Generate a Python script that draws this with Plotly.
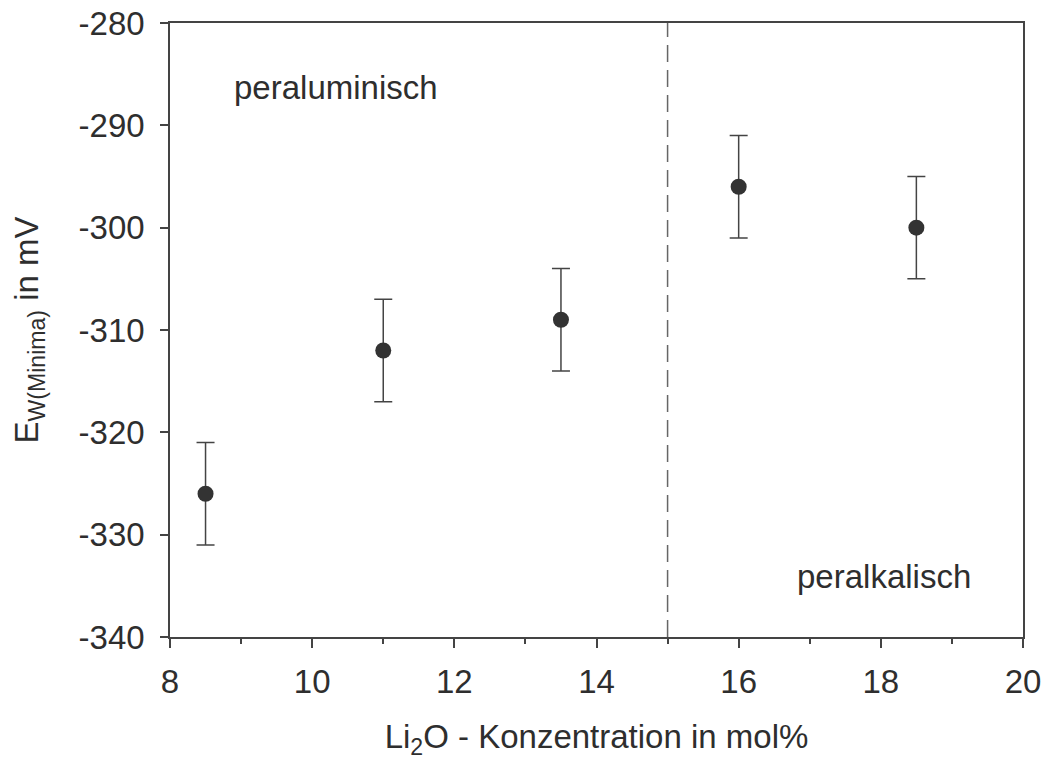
import plotly.graph_objects as go

x_conc = [8.5, 11, 13.5, 16, 18.5]
e_min = [-326, -312, -309, -296, -300]
err = [5, 5, 5, 5, 5]
boundary_x = 15
x_ticks = [8, 10, 12, 14, 16, 18, 20]
y_ticks = [-340, -330, -320, -310, -300, -290, -280]
y_ticklabels = ["-340", "-330", "-320", "-310", "-300", "-290", "-280"]

FONT = "Liberation Sans, Arial, sans-serif"
TXT = "#2e2e2e"
AX = "#444444"
FS = 33

fig = go.Figure()
fig.add_trace(go.Scatter(
    x=x_conc, y=e_min, mode="markers",
    marker=dict(size=16, color="#333333"),
    error_y=dict(type="data", array=err, visible=True, color=AX, thickness=1.5, width=9),
    showlegend=False,
))
fig.add_shape(type="line", x0=boundary_x, x1=boundary_x, y0=-340, y1=-280, xref="x", yref="y",
              line=dict(color="#666666", width=1.5, dash="17px,8px"))
fig.add_annotation(x=10.34, y=-286.3, text="peraluminisch", showarrow=False,
                   font=dict(size=FS, color=TXT, family=FONT))
fig.add_annotation(x=18.04, y=-334.1, text="peralkalisch", showarrow=False,
                   font=dict(size=FS, color=TXT, family=FONT))

fig.update_layout(
    width=1045, height=760,
    margin=dict(l=170, r=22, t=23, b=123),
    plot_bgcolor="white", paper_bgcolor="white",
    font=dict(family=FONT, size=FS, color=TXT),
)
fig.update_xaxes(
    range=[8, 20], tickvals=x_ticks, ticks="outside", ticklen=9, tickwidth=1.5, tickcolor=AX,
    showline=True, linecolor=AX, linewidth=1.5, mirror=True, showgrid=False, zeroline=False,
    minor=dict(tickvals=[9, 11, 13, 15, 17, 19], ticks="outside", ticklen=5, tickwidth=1.5, tickcolor=AX),
    tickfont=dict(size=FS, color=TXT), ticklabelstandoff=6, automargin=False,
    title=dict(text="Li<sub>2</sub>O - Konzentration in mol%", font=dict(size=FS, color=TXT), standoff=26),
)
fig.update_yaxes(
    range=[-340, -280], tickvals=y_ticks, ticktext=y_ticklabels, ticks="outside", ticklen=8,
    tickwidth=1.5, tickcolor=AX,
    showline=True, linecolor=AX, linewidth=1.5, mirror=True, showgrid=False, zeroline=False,
    tickfont=dict(size=FS, color=TXT), ticklabelstandoff=9, automargin=False,
    title=dict(text="E<sub>W(Minima)</sub> in mV", font=dict(size=FS, color=TXT), standoff=30),
)
fig.write_html("out.html")
